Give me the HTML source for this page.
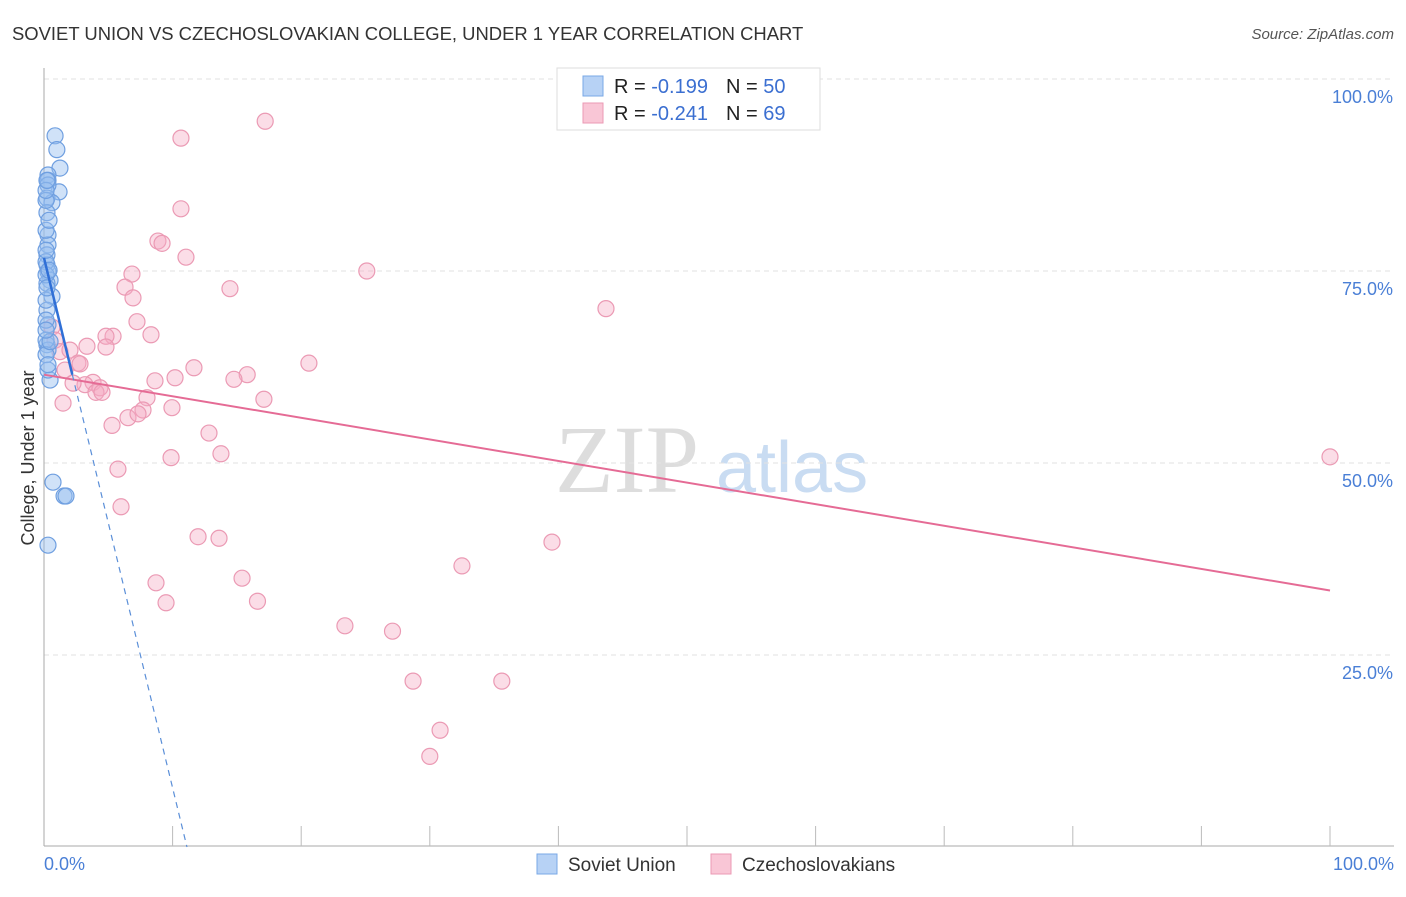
<!DOCTYPE html>
<html><head><meta charset="utf-8"><style>
body{margin:0;background:#fff;font-family:"Liberation Sans",sans-serif}
</style></head><body>
<svg width="1406" height="892" xmlns="http://www.w3.org/2000/svg" font-family="Liberation Sans, sans-serif">
<text x="12" y="40" font-size="18.45" fill="#333">SOVIET UNION VS CZECHOSLOVAKIAN COLLEGE, UNDER 1 YEAR CORRELATION CHART</text>
<text x="1394" y="39" font-size="15" fill="#555" text-anchor="end" font-style="italic">Source: ZipAtlas.com</text>
<g>
<text x="555" y="492" font-size="96" fill="#ddd" font-family="Liberation Serif, serif">ZIP</text>
<text x="716" y="492" font-size="72" fill="#c9dcf2">atlas</text>
</g>
<g id="grid"></g>
<g id="axes"></g>
<g id="marks"></g>
<g>
<rect x="557" y="68" width="263" height="62" fill="#fff" stroke="#ddd"/>
<rect x="583" y="76" width="20" height="20" fill="#b7d2f5" stroke="#7aa8e6"/>
<rect x="583" y="103" width="20" height="20" fill="#f9c6d6" stroke="#eb9ab4"/>
<text x="614" y="93" font-size="20" fill="#222">R = <tspan fill="#3b6fd1">-0.199</tspan><tspan dx="18">N = </tspan><tspan fill="#3b6fd1">50</tspan></text>
<text x="614" y="120" font-size="20" fill="#222">R = <tspan fill="#3b6fd1">-0.241</tspan><tspan dx="18">N = </tspan><tspan fill="#3b6fd1"> 69</tspan></text>
</g>
<text transform="translate(34,458) rotate(-90)" font-size="18" fill="#333" text-anchor="middle">College, Under 1 year</text>
<g>
<rect x="537" y="854" width="20" height="20" fill="#b7d2f5" stroke="#7aa8e6"/>
<text x="568" y="871" font-size="19" fill="#333">Soviet Union</text>
<rect x="711" y="854" width="20" height="20" fill="#f9c6d6" stroke="#eb9ab4"/>
<text x="742" y="871" font-size="19" fill="#333">Czechoslovakians</text>
</g>
</svg>
<script>
const yTicks=[25,50,75,100];
const yTickLabels=["25.0%","50.0%","75.0%","100.0%"];
const xTickLabels=["0.0%","100.0%"];
const sovietX=[0.86,1.0,1.24,1.17,0.31,0.31,0.31,0.23,0.62,0.23,0.31,0.31,0.23,0.23,0.31,0.47,0.23,0.62,0.23,0.31,0.23,0.31,0.47,0.7,1.56,1.71,0.31,0.16,0.16,0.16,0.16,0.16,0.16,0.16,0.16,0.31,0.31,0.16,0.23,0.39,0.47,0.23,0.39,0.16,0.16];
const sovietY=[92.6,90.8,88.4,85.3,87.5,86.8,86.2,84.5,83.9,82.6,79.7,78.4,77.1,75.8,74.9,73.8,73.4,71.7,69.9,68.0,65.4,64.7,60.8,47.5,45.7,45.7,39.3,84.2,85.5,80.3,76.2,74.5,68.6,66.0,64.1,62.1,62.8,71.2,72.8,75.1,65.8,86.8,81.6,77.7,67.3];
const czechX=[17.2,10.65,10.65,8.86,9.18,11.04,25.1,6.84,14.46,6.30,6.92,43.7,7.23,8.32,5.37,4.82,3.34,4.82,0.62,0.86,1.24,2.02,20.6,11.66,2.64,1.63,15.8,10.19,14.77,8.63,3.81,3.19,4.35,4.04,4.51,2.26,17.1,8.01,9.95,7.70,1.48,6.53,7.31,5.29,12.83,13.76,9.88,5.75,100,5.99,11.98,13.61,39.5,32.5,8.71,15.4,9.49,16.6,23.4,27.1,28.7,35.6,30.8,30.0,2.8,50];
const czechY=[94.5,92.3,83.1,78.9,78.6,76.8,75.0,74.6,72.7,72.9,71.5,70.1,68.4,66.7,66.5,66.5,65.2,65.1,67.7,66.0,64.5,64.7,63.0,62.4,63.0,62.1,61.5,61.1,60.9,60.7,60.5,60.2,59.8,59.2,59.2,60.4,58.3,58.5,57.2,56.9,57.8,55.9,56.4,54.9,53.9,51.2,50.7,49.2,50.8,44.3,40.4,40.2,39.7,36.6,34.4,35.0,31.8,32.0,28.8,28.1,21.6,21.6,15.2,11.8,62.9,100];
const sovietTrend=[76.7,-6.9];
const czechTrend=[61.5,-0.281];
const NS="http://www.w3.org/2000/svg";
const sx=v=>44+v*12.86, sy=v=>847-v*7.68;
function mk(t,a,p){const e=document.createElementNS(NS,t);for(const k in a)e.setAttribute(k,a[k]);p.appendChild(e);return e;}
const grid=document.getElementById('grid'),axes=document.getElementById('axes'),marks=document.getElementById('marks');
yTicks.forEach((t,i)=>{
 const l=mk('line',{x1:44,x2:1394,y1:sy(t),y2:sy(t),stroke:'#e2e2e2','stroke-dasharray':'5,4'},grid);
 
 
 const tx=mk('text',{x:1393,y:sy(t)+24,'font-size':18,fill:'#4a7fd6','text-anchor':'end'},axes);
 tx.textContent=yTickLabels[i];
 
 
});
let a=mk('line',{x1:44,x2:44,y1:68,y2:846,stroke:'#aaa'},axes);


a=mk('line',{x1:44,x2:1394,y1:846,y2:846,stroke:'#aaa'},axes);


for(let i=1;i<=10;i++){const t=mk('line',{x1:sx(i*10),x2:sx(i*10),y1:826,y2:846,stroke:'#bbb'},axes);
 
 }
[[0,'start',44],[1,'end',1394]].forEach(([i,anc,x])=>{const t=mk('text',{x:x,y:870,'font-size':18,fill:'#4a7fd6','text-anchor':anc},axes);t.textContent=xTickLabels[i];
 
 });
czechX.forEach((x,i)=>{const c=mk('circle',{cx:sx(x),cy:sy(czechY[i]),r:8,fill:'rgba(244,170,195,0.4)',stroke:'#eb9ab4','stroke-width':1.2},marks);
 
 });
sovietX.forEach((x,i)=>{const c=mk('circle',{cx:sx(x),cy:sy(sovietY[i]),r:8,fill:'rgba(150,190,240,0.45)',stroke:'#6f9fe0','stroke-width':1.2},marks);
 
 });
let l=mk('line',{x1:sx(0),y1:sy(czechTrend[0]),x2:sx(100),y2:sy(czechTrend[0]+czechTrend[1]*100),stroke:'#e56b95','stroke-width':2},marks);


const x0=-sovietTrend[0]/sovietTrend[1];
l=mk('line',{x1:sx(2.2),y1:sy(sovietTrend[0]+sovietTrend[1]*2.2),x2:sx(x0),y2:sy(0),stroke:'#5b8fd8','stroke-width':1.2,'stroke-dasharray':'6,5'},marks);


l=mk('line',{x1:sx(0),y1:sy(sovietTrend[0]),x2:sx(2.2),y2:sy(sovietTrend[0]+sovietTrend[1]*2.2),stroke:'#2f6fd6','stroke-width':2.5},marks);


</script>
</body></html>
